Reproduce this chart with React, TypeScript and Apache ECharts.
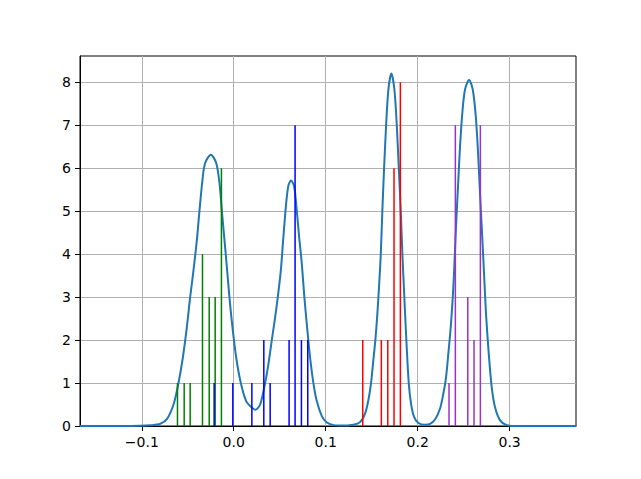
import React, { useEffect, useRef } from "react";
import * as echarts from "echarts";

// KDE curve
const kdeX = [
  -0.1672, -0.1235, -0.1017, -0.0909, -0.0854, -0.08, -0.0727, -0.0655, -0.0601, -0.0553,
  -0.051, -0.0474, -0.0438, -0.0401, -0.0373, -0.034, -0.0311, -0.0249, -0.0191, -0.0155,
  -0.0129, -0.0101, -0.0075, -0.0047, -0.0014, 0.0026, 0.0077, 0.0135, 0.0197, 0.0233,
  0.0287, 0.0341, 0.0377, 0.0414, 0.045, 0.0479, 0.0512, 0.054, 0.057, 0.0595,
  0.0624, 0.0657, 0.0686, 0.0711, 0.074, 0.0768, 0.0801, 0.083, 0.0866, 0.0903,
  0.0958, 0.1012, 0.1084, 0.1157, 0.1301, 0.1374, 0.1428, 0.1464, 0.1493, 0.1518,
  0.154, 0.1562, 0.158, 0.1599, 0.1616, 0.1635, 0.1657, 0.1682, 0.1714, 0.1747,
  0.1773, 0.1795, 0.1816, 0.1834, 0.1855, 0.1877, 0.1903, 0.1928, 0.1961, 0.2008,
  0.208, 0.2135, 0.2189, 0.2243, 0.2279, 0.2309, 0.2334, 0.236, 0.2382, 0.2399,
  0.2417, 0.2439, 0.2461, 0.2486, 0.2515, 0.2559, 0.2599, 0.2632, 0.2657, 0.2678,
  0.27, 0.2722, 0.2743, 0.2773, 0.2805, 0.2841, 0.2896, 0.2968, 0.3077, 0.3722,
];
const kdeY = [
  0, 0, 0.005, 0.015, 0.03, 0.05, 0.16, 0.5, 1.0, 1.6,
  2.3, 3.0, 3.62, 4.33, 5.0, 5.73, 6.12, 6.31, 6.12, 5.65,
  5.0, 4.33, 3.7, 3.0, 2.3, 1.6, 1.0, 0.58, 0.43, 0.38,
  0.5, 1.0, 1.44, 2.0, 2.53, 3.0, 3.62, 4.4, 5.18, 5.6,
  5.71, 5.57, 5.0, 4.4, 3.78, 3.0, 2.22, 1.6, 1.0, 0.58,
  0.23, 0.08, 0.02, 0.01, 0.03, 0.09, 0.29, 0.6, 1.0, 1.53,
  2.0, 2.62, 3.24, 4.0, 5.0, 6.0, 7.0, 7.83, 8.2, 7.83,
  7.0, 6.0, 5.0, 4.0, 3.0, 2.0, 1.0, 0.52, 0.21, 0.07,
  0.03, 0.05, 0.15, 0.4, 0.75, 1.14, 1.69, 2.31, 3.0, 3.71,
  4.64, 5.58, 6.51, 7.29, 7.83, 8.05, 7.83, 7.21, 6.35, 5.42,
  4.49, 3.55, 2.62, 1.69, 0.91, 0.44, 0.13, 0.02, 0, 0,
];

// Stems (position, count)
const greenX = [-0.0612, -0.0539, -0.0474, -0.034, -0.0267, -0.0202, -0.0134];
const greenH = [1, 1, 1, 4, 3, 3, 6];
const blueX = [-0.0213, -0.001, 0.0197, 0.0327, 0.0396, 0.0602, 0.0667, 0.0736, 0.0805];
const blueH = [1, 1, 1, 2, 1, 2, 7, 2, 2];
const redX = [0.1403, 0.1605, 0.1675, 0.1743, 0.1812];
const redH = [2, 2, 2, 6, 8];
const purpleX = [0.2341, 0.241, 0.2545, 0.2613, 0.2682];
const purpleH = [1, 7, 3, 2, 7];

const xTicks = [-0.1, 0, 0.1, 0.2, 0.3];
const yTicks = [0, 1, 2, 3, 4, 5, 6, 7, 8];

const FONT = "DejaVu Sans";

function stemSeries(xs: number[], hs: number[], color: string, z: number) {
  return {
    type: "custom",
    z,
    clip: true,
    data: xs.map((x, i) => [x, hs[i]]),
    renderItem: (params: any, api: any) => {
      const p0 = api.coord([api.value(0), 0]);
      const p1 = api.coord([api.value(0), api.value(1)]);
      return {
        type: "line",
        shape: { x1: p0[0], y1: p0[1], x2: p1[0], y2: p1[1] },
        style: { stroke: color, lineWidth: 1.5 },
      };
    },
  };
}

export default function App() {
  const ref = useRef<HTMLDivElement>(null);
  useEffect(() => {
    if (!ref.current) return;
    const chart = echarts.init(ref.current, undefined, { renderer: "svg" });
    const fmt = (v: number) => {
      const s = Math.abs(v).toFixed(1);
      return v < -1e-9 ? "\u2212" + s : s;
    };
    chart.setOption({
      animation: false,
      backgroundColor: "#ffffff",
      grid: {
        left: 80,
        right: 65,
        top: 56,
        bottom: 53,
        show: true,
        borderColor: "#000000",
        borderWidth: 1,
        backgroundColor: "transparent",
      },
      xAxis: {
        type: "value",
        min: -0.1672,
        max: 0.3722,
        splitNumber: 5,
        axisLine: { show: true, onZero: false, lineStyle: { color: "#000", width: 1 } },
        axisTick: {
          show: true,
          length: 5,
          inside: false,
          customValues: xTicks,
          lineStyle: { color: "#000", width: 1 },
        },
        axisLabel: {
          show: true,
          margin: 9,
          color: "#000",
          fontFamily: FONT,
          fontSize: 14,
          customValues: xTicks,
          formatter: (v: number) => fmt(v),
        },
        splitLine: { show: true, lineStyle: { color: "#b0b0b0", width: 1 } },
      },
      yAxis: {
        type: "value",
        min: 0,
        max: 8.61,
        interval: 1,
        axisLine: { show: true, onZero: false, lineStyle: { color: "#000", width: 1 } },
        axisTick: {
          show: true,
          length: 5,
          inside: false,
          customValues: yTicks,
          lineStyle: { color: "#000", width: 1 },
        },
        axisLabel: {
          show: true,
          margin: 9,
          color: "#000",
          fontFamily: FONT,
          fontSize: 14,
          customValues: yTicks,
          formatter: (v: number) => String(Math.round(v)),
        },
        splitLine: { show: true, lineStyle: { color: "#b0b0b0", width: 1 } },
      },
      series: [
        {
          type: "line",
          z: 2,
          data: kdeX.map((x, i) => [x, kdeY[i]]),
          showSymbol: false,
          symbol: "none",
          smooth: 0.3,
          lineStyle: { color: "#1f77b4", width: 2 },
        },
        stemSeries(greenX, greenH, "#008000", 3),
        stemSeries(blueX, blueH, "#0000ff", 4),
        stemSeries(redX, redH, "#ff0000", 5),
        stemSeries(purpleX, purpleH, "#9932cc", 6),
      ],
    });
    return () => chart.dispose();
  }, []);
  return (
    <div
      ref={ref}
      style={{ position: "fixed", left: 0, top: 0, width: 641, height: 479, background: "#fff" }}
    />
  );
}
